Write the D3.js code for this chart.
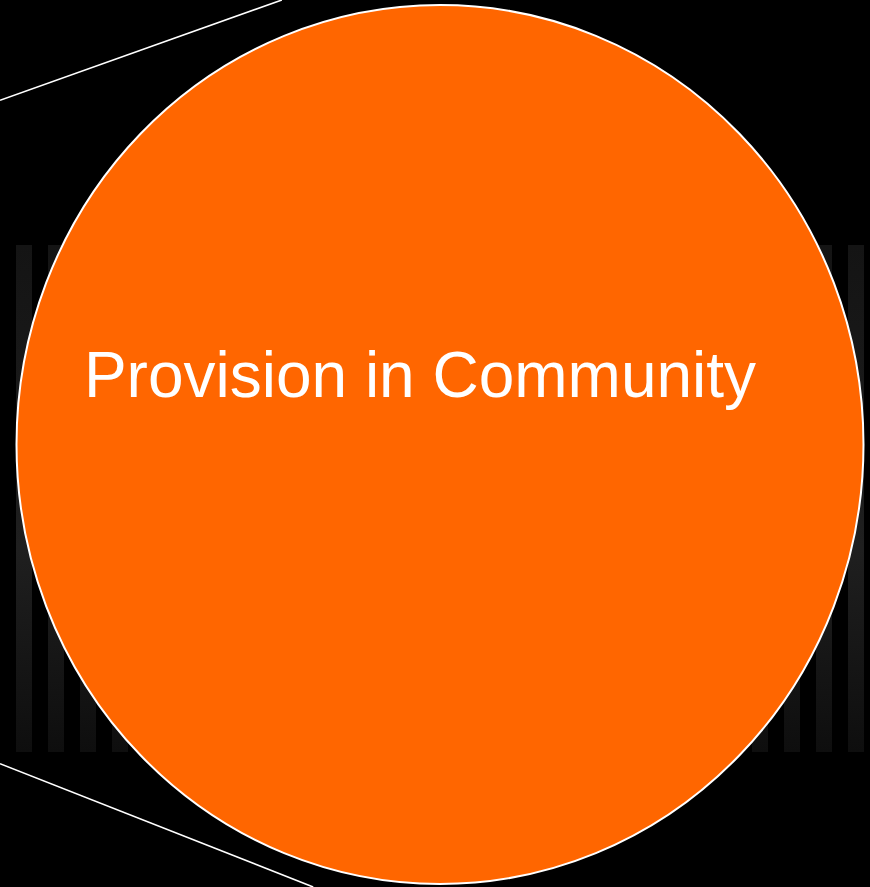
<!DOCTYPE html>
<html>
<head>
<meta charset="utf-8">
<script src="https://cdn.jsdelivr.net/npm/d3@7"></script>
<style>
  html, body { margin: 0; padding: 0; background: #000; }
  svg { display: block; }
</style>
</head>
<body>
<div id="chart"></div>
<script>
// slice shown in the zoomed pie
const sliceLabels = ["Provision in Community"]
const sliceValues = [1]

// background stripes (all full height)
const stripeKeys = d3.range(27).map(String)
const stripeValues = [1,1,1,1,1,1,1,1,1,1,1,1,1,1,1,1,1,1,1,1,1,1,1,1,1,1,1]

// connector lines from the parent pie, as fractions of the frame
const connectors = [
  {x1: 0, y1: 0.113, x2: 0.324, y2: 0},
  {x1: 0, y1: 0.861, x2: 0.36, y2: 1}
]

const width = 870, height = 887

const svg = d3.select('#chart')
  .append('svg')
    .attr('width', width)
    .attr('height', height)

svg.append('rect')
  .attr('width', width)
  .attr('height', height)
  .attr('fill', '#000')

//stripe gradient
const grad = svg.append('defs').append('linearGradient')
  .attr('id', 'stripeGrad')
  .attr('x1', 0).attr('y1', 0).attr('x2', 0).attr('y2', 1)
grad.append('stop').attr('offset', '0%').attr('stop-color', '#141414')
grad.append('stop').attr('offset', '60%').attr('stop-color', '#1f1f1f')
grad.append('stop').attr('offset', '100%').attr('stop-color', '#0e0e0e')

const x = d3.scaleBand()
  .domain(stripeKeys)
  .range([16, 864])
  .paddingInner(0.5)
  .paddingOuter(0)

const y = d3.scaleLinear()
  .domain([0, 1])
  .range([752, 245])

svg.append('g')
  .selectAll('rect')
  .data(stripeValues)
  .join('rect')
    .attr('x', (d, i) => x(stripeKeys[i]))
    .attr('y', d => y(d))
    .attr('width', x.bandwidth())
    .attr('height', d => y(0) - y(d))
    .attr('fill', 'url(#stripeGrad)')

// connectors
const fx = d3.scaleLinear().domain([0, 1]).range([0, width])
const fy = d3.scaleLinear().domain([0, 1]).range([0, height])

svg.append('g')
  .selectAll('line')
  .data(connectors)
  .join('line')
    .attr('x1', d => fx(d.x1))
    .attr('y1', d => fy(d.y1))
    .attr('x2', d => fx(d.x2))
    .attr('y2', d => fy(d.y2))
    .attr('stroke', '#fff')
    .attr('stroke-width', 1.6)

// the pie (single slice), slightly taller than wide
const cx = 440, cy = 444.5, rx = 423.5, ry = 439.5

const pie = d3.pie().sort(null)
const arc = d3.arc().innerRadius(0).outerRadius(rx)

const g = svg.append('g')
  .attr('transform', 'translate(' + cx + ',' + cy + ') scale(1,' + (ry / rx) + ')')

g.selectAll('path')
  .data(pie(sliceValues))
  .join('path')
    .attr('d', arc)
    .attr('fill', '#ff6600')
    .attr('stroke', '#fff')
    .attr('stroke-width', 2)
    .attr('vector-effect', 'non-scaling-stroke')

svg.append('text')
  .attr('x', 420)
  .attr('y', 397)
  .attr('text-anchor', 'middle')
  .attr('fill', '#fff')
  .style('font-family', '"Liberation Sans", Arial, sans-serif')
  .style('font-size', '64px')
  .text(sliceLabels[0])
</script>
</body>
</html>
